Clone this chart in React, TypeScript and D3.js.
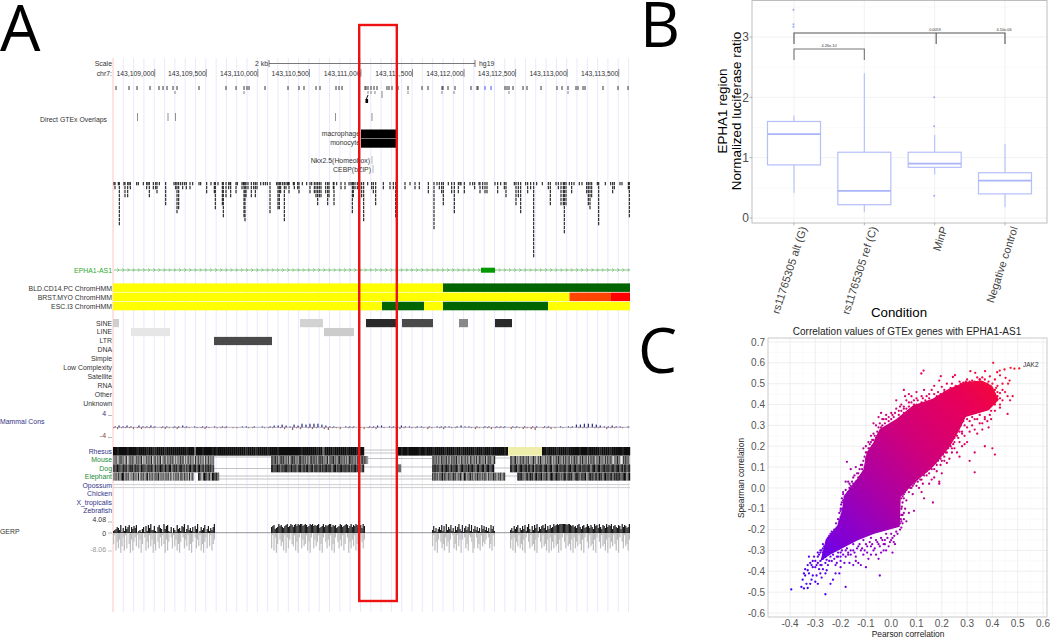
import React from "react";
import * as d3 from "d3";

const FONT = "'Liberation Sans', Arial, sans-serif";

/* ---------- Panel A data ---------- */
const chromStart = 143108600;
const chromEnd = 143113614;
const tickBp = [143109000, 143109500, 143110000, 143110500, 143111000, 143111500, 143112000, 143112500, 143113000, 143113500];
const snpRow1 = [3,16,24,37,46,50,54,60,64,86,113,123,131,134,136,152,175,186,191,203,207,223,226,229,252,253,255,258,261,264,274,276,279,285,295,309,315,329,330,335,342,358,364,365,392,394,396,400,410,414,428,444,449,455,463,465,470,472,490,505,515];
const snpBlue = [372,378];
const snpRow2 = [62,131,255,258,262,269,295,329,341,396,455];
const gtexOverlap = [24.5,55,62.5,222.5,259];
const denseA: [number, number][] = [[1,1],[2,2],[5.3,1],[6.3,11],[11,1],[12,4],[14.7,4],[16,1],[17.3,2],[23.7,1],[25.3,1],[30.3,1],[33.7,2],[35,1],[36.3,4],[40.3,2],[42.7,2],[44,3],[46.3,1],[52.7,6],[61,1],[62.7,2],[64,8],[65.7,7],[67.7,1],[69.7,2],[71.7,1],[73.3,2],[77,2],[79.7,1],[86,1],[87.7,1],[93.7,3],[98,1],[101.3,3],[102.3,7],[105,1],[109.3,6],[110.3,9],[113,4],[115.7,2],[117,1],[117.7,4],[123,3],[124.3,1],[129,2],[130.3,1],[131,9],[132,10],[133,4],[135,2],[138.3,4],[140.7,2],[142.3,4],[144,2],[147.7,1],[150.3,1],[152.3,1],[154.3,1],[157,8],[163.7,1],[165,7],[166.3,7],[167.7,3],[169.7,1],[171.3,10],[173,2],[175.7,1]];
const denseB: [number, number][] = [[174.7,1],[176,3],[180.3,1],[181.3,2],[184.7,2],[186,3],[189.3,1],[193.7,1],[197,3],[198.7,1],[201.3,3],[203,4],[204.7,6],[206.3,4],[208,4],[212.7,3],[214.7,6],[216,4],[220.3,2],[221,6],[223.7,1],[228,2],[232,2],[236,1],[238,1],[239.3,8],[240.3,4],[242,2],[244.3,2],[246.7,2],[248.7,4],[250.7,10],[254.7,1],[258.7,2],[260.3,3],[262.7,6],[270.3,2],[277,2],[280.3,2],[282.7,9],[292,2],[297,1],[302,2],[306.3,2],[315.3,3],[321,12],[324,1],[326.3,2],[328.7,3],[330.3,6],[335.3,1],[338.7,3],[341.3,8],[345.3,3],[348,1]];
const denseC: [number, number][] = [[347,1],[351.3,3],[357,1],[359.7,1],[361.7,2],[366,1],[367,3],[369.7,2],[372,3],[374,3],[382,1],[384.7,3],[387.7,1],[391.3,2],[393,4],[401.3,1],[403,6],[405.3,4],[407.7,8],[412.7,1],[414.7,3],[417.7,2],[420.7,19],[423.7,1],[429.3,1],[435.3,2],[437.3,6],[443,1],[445.3,2],[448,6],[450.3,6],[451.3,13],[453,6],[456.3,1],[458.7,3],[461,1],[466.3,1],[469,1],[473.7,3],[475.3,6],[477,7],[478.7,4],[484.3,1],[485.7,11],[492.3,1],[497.7,1],[499.7,3],[501.3,2],[507,1],[509,1],[515.3,2],[516.3,9]];
const chromRows = ["BLD.CD14.PC ChromHMM", "BRST.MYO ChromHMM", "ESC.I3 ChromHMM"];
const chromSegs: [number, number, number, string][] = [
  [0,330,0,"#ffff00"],[330,517,0,"#006400"],
  [0,456.5,1,"#ffff00"],[456.5,498,1,"#ff4500"],[498,517,1,"#ff0000"],
  [0,269,2,"#ffff00"],[269,311,2,"#006400"],[311,330,2,"#ffff00"],[330,435,2,"#006400"],[435,517,2,"#ffff00"],
];
const rmskNames = ["SINE","LINE","LTR","DNA","Simple","Low Complexity","Satellite","RNA","Other","Unknown"];
const rmskSegs: [number, number, number, string][] = [
  [0,6,0,"#cfcfcf"],[187,210,0,"#d2d2d2"],[253,284,0,"#2a2a2a"],[289,320,0,"#4a4a4a"],[346,355,0,"#888888"],[382,399,0,"#2a2a2a"],
  [18,57,1,"#e6e6e6"],[211,241,1,"#cccccc"],[101,159,2,"#4a4a4a"],
];
const speciesNames = ["Rhesus","Mouse","Dog","Elephant","Opossum","Chicken","X_tropicalis","Zebrafish"];
const speciesColors = ["#333388","#228833","#228833","#228833","#333388","#333388","#333388","#333388"];
const rhesusCells: [number, number, string][] = [
  [0,251,"0010000100001000010011000010000000000100040001000010100000000000000100001000001000010000000000010000000100400001000000100001000"],
  [284,395,"00100100000100100010000010000100100000010001000100000010"],
  [429,517,"0010000100001000001000100000100001000001000"],
];
const mouseCells: [number, number, string][] = [
  [0,101,"54376235471862534735261847352618437261853472635184736251847263548172635481726354"],
  [158,255,"32415263241536273142536214253617324153621425361732415263142536271342536217324156"],
  [319,382,"42536172435261734251637245361824536172453617243561"],
  [397,517,"3254163725416352746153826154736251473625143726154372615347261543726153472615437261534782615399251437"],
];
const dogCells: [number, number, string][] = [
  [0,101,"21302143021530214032150213420312504130214032105213042103250410321041032150213042"],
  [158,251,"10213021403210214032105210320410321052103214021032105210402103210321402103210521"],
  [284,288,"4"],
  [319,381,"21032142031021403210253103214021032410321042103210"],
  [397,517,"1032104210321041032051032104210321053210410321042103210321042103210521032104210321042103210320410321"],
];
const elephantCells: [number, number, string][] = [
  [0,81,"54362540162537462537182536407253642516354625371846253714625371826"],
  [85,106,"147025160314"],
  [319,392,"241536240513624351426351470263415263514263514725361427351642"],
  [404,517,"302143521403152041305241352014302153401520314521035213064213052140315203142051302143201530"],
];
const speciesGaps: [number, number, number][] = [
  [251,284,450],[251,284,453],[101,158,457],[255,319,458.5],[382,397,458],[101,158,468.5],[251,284,467],[288,319,467],[381,397,468],
  [106,319,476],[106,319,479],[392,404,476],
];
const opossumLines = [484.6,487.6];
const mammalUp = "1212102112101101121010110101100011010101"+"2232132434443"+"21100111000112201122110110101111012110"+"1011011101101011011001011"+"3344432"+"1121101";
const mammalDown = "1211121211101211201101121011101100110011"+"1012031201210"+"2311201101211201011210110121012011000"+"1211121110211212301121010"+"1011101"+"1021101";
const gerpSegs: [number, number, string, string][] = [
  [0,102,"2346538152746816475802314617285933721685419478216053184527691483526174902635814725369","5184739628170593842617395028471639580472615938402716385940273618594027361859427061853"],
  [158,252,"678456978657896798689798997898679897878956796878996878567986789857968798678597","718295036481927305618492073651849207364185920473618592047361850294736185920473"],
  [319,382,"3725146382719364825173694281573692814736251847362518472","61849304758264930175816393027581249702758164530275816"],
  [397,517,"3527468153748269417385926478593748569789899999989987867589647856975864978596487596879478658749687569","7382946175839204716583920471658392847165938204716583927461583920471658392047165839274615839204716583"],
];

/* ---------- Panel B data ---------- */
const conditions = ["rs11765305 alt (G)","rs11765305 ref (C)","MinP","Negative control"];
const whiskerLow = [0.42,0.10,0.72,0.18];
const boxQ1 = [0.88,0.22,0.84,0.40];
const boxMedian = [1.39,0.45,0.90,0.62];
const boxQ3 = [1.60,1.09,1.09,0.75];
const whiskerHigh = [1.70,2.40,1.38,1.23];
const boxOutliers = [[3.45,3.21,3.17],[],[2.0,1.52,0.37],[]];
const boxTicks = [0,1,2,3];
const pLabels = ["4.26e-10","0.0059","4.10e-06"];

/* ---------- Panel C data ---------- */
const xTicks = [-0.4,-0.3,-0.2,-0.1,0,0.1,0.2,0.3,0.4,0.5,0.6];
const yTicks = [-0.6,-0.5,-0.4,-0.3,-0.2,-0.1,0,0.1,0.2,0.3,0.4,0.5,0.6,0.7];
const cloudOutline: [number, number][] = [[-0.256,-0.248],[-0.211,-0.184],[-0.191,-0.104],[-0.185,-0.04],[-0.133,0.04],[-0.107,0.088],[-0.094,0.168],[-0.068,0.216],[-0.043,0.28],[0.022,0.328],[0.087,0.392],[0.164,0.424],[0.229,0.472],[0.293,0.504],[0.358,0.512],[0.397,0.488],[0.422,0.424],[0.384,0.376],[0.293,0.344],[0.267,0.28],[0.229,0.2],[0.164,0.104],[0.087,0.024],[0.035,-0.04],[0.031,-0.184],[-0.017,-0.2],[-0.068,-0.216],[-0.133,-0.248],[-0.185,-0.28],[-0.236,-0.312],[-0.275,-0.344]];
const outliers: [number, number][] = [
[.403,.60],[.506,.573],[.487,.572],[.472,.576],[.448,.568],[.429,.563],[.419,.555],[.371,.56],[.332,.552],[.313,.56],[.128,.563],[.119,.549],[.196,.536],[.252,.541],[.244,.532],[.468,.515],[.452,.528],[.462,.50],[.44,.50],[.43,.54],[.41,.52],[.39,.535],[.36,.53],[.34,.53],[.3,.52],[.27,.51],[.22,.50],[.19,.515],[.17,.49],[.13,.47],[.1,.46],[.05,.47],[.055,.44],[.46,.44],[.48,.44],[.44,.42],[.45,.46],[.43,.455],[.47,.42],
[.42,.49],[.41,.47],[.44,.47],[.385,.51],[.35,.52],[.32,.515],[.285,.505],[.255,.49],[.21,.47],[.185,.46],[.15,.45],[.125,.43],[.09,.42],[.07,.41],[.035,.39],[.2,.485],[.24,.5],[.42,.44],[.43,.40],[.41,.41],[.40,.40],
[.46,.355],[.43,.385],[.41,.37],[.395,.33],[.385,.29],[.4,.19],[.41,.16],[.37,.2],[.34,.26],[.33,.17],[.31,.13],[.33,.075],[.28,.2],[.27,.15],[.25,.22],[.26,.17],[.24,.19],[.3,.22],[.29,.25],[.35,.31],[.32,.3],[.36,.28],[.38,.32],[.23,.14],[.2,.07],[.195,.11],[.22,.12],[.19,.03],[.19,.02],[.17,.05],[.16,.04],[.13,-.05],[.165,-.07],[.12,-.02],[.1,.01],[.085,-.03],[.07,-.02],[.09,-.11],[.06,-.06],[.055,-.1],[.07,-.12],[.045,-.13],[.04,-.16],
[.37,.34],[.34,.33],[.31,.32],[.33,.28],[.3,.29],[.28,.26],[.31,.27],[.26,.25],[.25,.19],[.24,.23],[.27,.22],[.29,.21],[.21,.15],[.22,.17],[.2,.13],[.18,.11],[.18,.08],[.15,.07],[.14,.06],[.12,.04],[.15,.02],[.11,.0],[.09,.02],[.08,0],[.06,-.01],[.05,-.03],[.045,-.07],[.05,-.12],[.04,-.1],[.04,-.19],[.035,-.2],
[.01,-.26],[.015,-.27],[-.01,-.28],[.005,-.31],[-.025,-.25],[-.045,-.42],[-.05,-.27],[-.03,-.3],[-.07,-.3],[-.05,-.34],[-.09,-.34],[-.1,-.38],[-.12,-.37],[-.13,-.36],[-.15,-.37],[-.18,-.475],[-.185,-.36],[-.17,-.32],[-.2,-.35],[-.22,-.37],[-.24,-.46],[-.23,-.44],[-.26,-.51],[-.29,-.46],[-.3,-.45],[-.33,-.48],[-.345,-.482],[-.355,-.475],[-.395,-.487],[-.35,-.44],[-.34,-.42],[-.335,-.46],[-.31,-.42],[-.3,-.38],[-.28,-.41],[-.27,-.39],[-.26,-.36],[-.25,-.37],[-.28,-.35],[-.325,-.33],[-.31,-.35],[-.29,-.31],[-.27,-.31],[-.265,-.28],[-.25,-.27],[-.31,-.38],[-.33,-.395],
[.0,-.22],[-.02,-.22],[-.04,-.24],[-.06,-.25],[-.08,-.24],[-.1,-.27],[-.11,-.25],[-.13,-.28],[-.15,-.27],[-.16,-.3],[-.18,-.3],[-.2,-.31],[-.21,-.33],[-.24,-.33],[-.23,-.3],[-.26,-.33],[-.28,-.37],[-.03,-.27],[-.08,-.28],[-.12,-.3],[-.14,-.33],[.02,-.21],[.0,-.25],[-.28,-.3],[-.27,-.27],[-.24,-.25],[-.24,-.22],[-.22,-.2],[-.21,-.21],[-.2,-.14],[-.2,-.1],[-.195,-.07],[-.19,-.02],
[-.17,.03],[-.18,.03],[-.175,.125],[-.16,.09],[-.14,.1],[-.12,.11],[-.11,.13],[-.11,.19],[-.09,.22],[-.095,.17],[-.07,.26],[-.08,.25],[-.06,.3],[-.07,.31],[-.05,.34],[-.03,.33],[-.04,.36],[-.02,.35],[0,.36],[.02,.38],[.02,.42],[.04,.40],[.05,.39],[.07,.45],[.06,.42],[.08,.44],[.1,.43],
[-.165,.02],[-.15,.05],[-.13,.07],[-.12,.06],[-.115,.09],[-.1,.11],[-.1,.14],[-.085,.19],[-.075,.23],[-.055,.25],[-.05,.29],[-.035,.3],[-.01,.32],[.01,.34],[.03,.35],[.05,.36],[.06,.38],[.1,.4],[.12,.41],[.14,.44],[.18,.44],[.22,.45],[.16,.47],[.25,.47],[.28,.48],
[-.29,-.33],[-.285,-.32],[-.28,-.31],[-.275,-.3],[-.27,-.29],[-.262,-.32],[-.258,-.3],[-.252,-.29],[-.248,-.31],[-.245,-.28],[-.24,-.3],[-.235,-.27],[-.23,-.32],[-.225,-.34],[-.22,-.3],[-.215,-.33],[-.21,-.31],[-.205,-.29],[-.2,-.33],[-.195,-.3],[-.19,-.32],[-.18,-.33],[-.175,-.29],[-.17,-.31],[-.16,-.32],[-.15,-.3],[-.145,-.31],[-.135,-.29],[-.125,-.27],[-.115,-.29],[-.105,-.3],[-.095,-.28],[-.085,-.26],[-.075,-.27],[-.065,-.29],[-.055,-.26],[-.045,-.28],[-.035,-.25],[-.025,-.27],[-.015,-.24],[-.005,-.26],[.005,-.24],[.012,-.23],[.025,-.22],
[-.3,-.35],[-.295,-.37],[-.305,-.33],[-.315,-.37],[-.32,-.36],[-.33,-.37],[-.34,-.39],[-.345,-.41],[-.325,-.41],[-.315,-.44],[-.32,-.46],[-.295,-.42],[-.285,-.39],[-.275,-.37],[-.29,-.36],[-.27,-.34],[-.255,-.345],[-.245,-.35],[-.235,-.35],[-.255,-.395],[-.26,-.41],[-.275,-.43],[-.215,-.36],[-.2,-.38],[-.205,-.41],[-.22,-.41],[-.165,-.36],[-.14,-.35],[-.11,-.32],[-.095,-.31],[-.08,-.32],[-.06,-.32],[-.04,-.31],[-.02,-.3],
[-.25,-.24],[-.245,-.23],[-.235,-.21],[-.23,-.23],[-.225,-.2],[-.218,-.17],[-.215,-.19],[-.21,-.15],[-.205,-.16],[-.205,-.12],[-.2,-.11],[-.198,-.08],[-.195,-.1],[-.195,-.05],[-.19,-.06],[-.19,-.03],[-.18,-.01],[-.17,-.02],[-.165,.0],[-.16,.01],[-.155,.03],[-.15,.02],[-.145,.06],[-.14,.03],[-.135,.07],[-.13,.05],[-.125,.09],[-.115,.11],[-.11,.07],[-.105,.15],[-.105,.1],[-.1,.17],[-.1,.2],[-.095,.13],[-.09,.19],[-.085,.21],[-.08,.17],[-.08,.22],[-.075,.2],[-.07,.23],[-.065,.25],[-.06,.24],[-.055,.27],[-.05,.26],[-.045,.31],[-.04,.29],[-.035,.33],[-.025,.31],[-.02,.33],[-.01,.34],[0,.33],[.005,.35],[.015,.36],[.03,.37],[.04,.37],[.05,.38],[.07,.39],[.08,.41],[.09,.4],[.105,.42],[.12,.44],[.135,.42],[.15,.43],[.17,.45],[.195,.45],[.21,.46],[.235,.48],[.26,.48],[.275,.5],[.295,.51],[.31,.51],[.33,.51],[.35,.52],[.37,.52],[.38,.5],[.4,.5],[.415,.48],[.42,.46],[.43,.43],
[.41,.4],[.395,.37],[.39,.35],[.37,.33],[.36,.31],[.35,.35],[.33,.33],[.32,.34],[.3,.33],[.285,.32],[.29,.3],[.275,.3],[.28,.27],[.27,.27],[.265,.24],[.255,.26],[.25,.24],[.245,.21],[.24,.17],[.235,.2],[.225,.19],[.215,.17],[.205,.16],[.21,.13],[.195,.14],[.185,.13],[.175,.12],[.17,.09],[.16,.09],[.15,.09],[.14,.08],[.13,.06],[.125,.02],[.115,.04],[.105,.03],[.095,.03],[.085,.01],[.075,.0],[.065,.01],[.055,-.02],[.05,-.05],[.045,-.04],[.04,-.05],[.042,-.09],[.04,-.13],[.038,-.15],[.035,-.17],[.045,-.17],[.05,-.15],[.06,-.16]
];
const jakLabel = "JAK2";

/* ---------- scales ---------- */
const gx = d3.scaleLinear().domain([chromStart, chromEnd]).range([113, 630]);
const bx = d3.scaleLinear().domain([0, 517]).range([113, 630]);
const gridBp = d3.range(chromStart, chromEnd, 100);

const boxX = d3.scalePoint<string>().domain(conditions).range([794, 1005]);
const boxY = d3.scaleLinear().domain([0, 3]).range([218, 37]);
const boxMinor = [0.5,1.5,2.5,3.5];

const sx = d3.scaleLinear().domain([-0.4, 0.6]).range([790, 1043]);
const sy = d3.scaleLinear().domain([-0.6, 0.7]).range([613, 342]);
const colorStops = ["#2a00ff","#7a00dd","#a800a8","#d0007a","#e80058","#ff1020"];
const colorT = d3.scaleLinear<string>().domain([0,.2,.4,.6,.8,1]).range(colorStops).interpolate(d3.interpolateRgb);
const gx1 = sx(-0.4), gy1 = sy(-0.5), gx2 = sx(0.5), gy2 = sy(0.6);
const colorAt = (p: number, s: number) => {
  const dx = gx2 - gx1, dy = gy2 - gy1;
  const t = ((sx(p) - gx1) * dx + (sy(s) - gy1) * dy) / (dx * dx + dy * dy);
  return colorT(Math.max(0, Math.min(1, t)));
};
const cloudLine = d3.line<[number, number]>().x(d => sx(d[0])).y(d => sy(d[1])).curve(d3.curveLinearClosed);

const Lbl = (p: any) => <text fontFamily={FONT} fontSize={6.9} fill="#333" {...p} />;

function BarCells({ cells, y, h }: { cells: [number, number, string][]; y: number; h: number }) {
  return <g>{cells.map(([a, b, s], i) => {
    const w = (bx(b) - bx(a)) / s.length;
    return <g key={i}>{s.split("").map((c, j) => {
      const g = 14 + +c * 24;
      return <rect key={j} x={bx(a) + j * w} y={y} width={w + 0.2} height={h} fill={`rgb(${g},${g},${g})`} />;
    })}</g>;
  })}</g>;
}

function DenseCols({ cols }: { cols: [number, number][] }) {
  return <g>{cols.map(([b, d], i) => (
    <line key={i} x1={bx(b)} x2={bx(b)} y1={182} y2={182 + d * 4} stroke="#111" strokeWidth={1.05}
      strokeDasharray="3.2 0.8" />
  ))}</g>;
}

export default function App() {
  const bw = 53;
  const mStep = 517 / mammalUp.length;
  return (
    <svg width={1050} height={637} style={{ position: "absolute", left: 0, top: 0, background: "#fff" }} fontFamily={FONT}>
      <defs>
        <linearGradient id="cloud" gradientUnits="userSpaceOnUse" x1={gx1} y1={gy1} x2={gx2} y2={gy2}>
          {colorStops.map((c, i) => <stop key={i} offset={i / 5} stopColor={c} />)}
        </linearGradient>
      </defs>

      {/* Big panel letters */}
      <text x={0} y={51} fontFamily="'Open Sans'" fontSize={64} fill="#000">A</text>
      <text x={640} y={47} fontFamily="'Open Sans'" fontSize={62} fill="#000">B</text>
      <text x={638} y={373} fontFamily="'Open Sans'" fontSize={62} fill="#000">C</text>

      {/* Panel A: grid */}
      {gridBp.filter(b => b > chromStart).map(b => (
        <line key={b} x1={gx(b)} x2={gx(b)} y1={58} y2={612} stroke="#e9e9fd" strokeWidth={1} />
      ))}
      <line x1={113} x2={113} y1={58} y2={612} stroke="#ffc4c4" strokeWidth={1} />

      {/* Scale and position row */}
      <Lbl x={112} y={66} textAnchor="end">Scale</Lbl>
      <Lbl x={268} y={66} textAnchor="end">2 kb</Lbl>
      <line x1={269} x2={475} y1={63.5} y2={63.5} stroke="#555" strokeWidth={0.8} />
      <line x1={269} x2={269} y1={60} y2={67} stroke="#555" strokeWidth={0.8} />
      <line x1={475} x2={475} y1={60} y2={67} stroke="#555" strokeWidth={0.8} />
      <Lbl x={479} y={65.5}>hg19</Lbl>
      <Lbl x={112} y={76} textAnchor="end">chr7:</Lbl>
      {tickBp.map(b => (
        <g key={b}>
          <text x={gx(b)} y={76} textAnchor="end" fontSize={6.8} fill="#333">{d3.format(",")(b)}</text>
          <line x1={gx(b)+0.5} x2={gx(b)+0.5} y1={69} y2={77} stroke="#444" strokeWidth={0.6} />
        </g>
      ))}

      {/* SNP ticks */}
      {snpRow1.map((b, i) => <line key={i} x1={bx(b)} x2={bx(b)} y1={86} y2={90} stroke="#222" strokeWidth={0.9} />)}
      {snpBlue.map((b, i) => <line key={i} x1={bx(b)} x2={bx(b)} y1={86} y2={90} stroke="#4455ee" strokeWidth={1} />)}
      {snpRow2.map((b, i) => <line key={i} x1={bx(b)} x2={bx(b)} y1={91} y2={b === 269 ? 98 : 94} stroke="#555" strokeWidth={0.7} />)}
      <line x1={bx(255)} x2={bx(253)} y1={95} y2={100} stroke="#111" strokeWidth={1} />
      <rect x={bx(252.5)} y={99} width={2.6} height={4} fill="#000" />

      {/* GTEx overlaps */}
      <Lbl x={107} y={121.5} textAnchor="end">Direct GTEx Overlaps</Lbl>
      {gtexOverlap.map((b, i) => <line key={i} x1={bx(b)} x2={bx(b)} y1={113} y2={121} stroke="#777" strokeWidth={0.8} />)}
      <Lbl x={360} y={136} textAnchor="end">macrophage</Lbl>
      <Lbl x={360} y={145} textAnchor="end">monocyte</Lbl>
      <rect x={bx(248)} y={129.5} width={bx(285) - bx(248)} height={8.9} fill="#000" />
      <rect x={bx(248)} y={138.8} width={bx(285) - bx(248)} height={8.9} fill="#000" />
      <Lbl x={370} y={162.5} textAnchor="end">Nkx2.5(Homeobox)</Lbl>
      <Lbl x={371} y={171.5} textAnchor="end">CEBP(bZIP)</Lbl>
      <line x1={372} x2={372} y1={156} y2={164} stroke="#888" strokeWidth={0.6} />
      <line x1={373} x2={373} y1={165} y2={173} stroke="#888" strokeWidth={0.6} />

      {/* Dense peak track */}
      <DenseCols cols={denseA} />
      <DenseCols cols={denseB} />
      <DenseCols cols={denseC} />

      {/* Gene */}
      <text x={112} y={273} textAnchor="end" fontSize={6.9} fill="#2faa2f">EPHA1-AS1</text>
      <line x1={114} x2={630} y1={270} y2={270} stroke="#66b566" strokeWidth={0.8} />
      {gridBp.flatMap(b => [b, b + 50]).filter(b => gx(b) > 115 && gx(b) < 629).map(b => (
        <path key={b} d={`M${gx(b) - 1},${268.3}L${gx(b) + 0.8},270L${gx(b) - 1},${271.7}`} fill="none" stroke="#66b566" strokeWidth={0.7} />
      ))}
      <rect x={bx(368)} y={267.7} width={bx(382) - bx(368)} height={5} fill="#009900" />

      {/* ChromHMM */}
      {chromRows.map((n, i) => <Lbl key={n} x={112} y={290.5 + i * 9.2} textAnchor="end">{n}</Lbl>)}
      {chromSegs.map(([a, b, r, c], i) => (
        <rect key={i} x={bx(a)} y={283.4 + r * 9.2} width={bx(b) - bx(a)} height={8.5} fill={c} />
      ))}

      {/* RepeatMasker */}
      {rmskNames.map((n, i) => <Lbl key={n} x={112} y={325.5 + i * 8.95} textAnchor="end">{n}</Lbl>)}
      {rmskSegs.map(([a, b, r, c], i) => (
        <rect key={i} x={bx(a)} y={319 + r * 8.95} width={bx(b) - bx(a)} height={8.2} fill={c} />
      ))}

      {/* Mammal Cons */}
      <text x={0} y={423.5} fontSize={6.9} fill="#333388">Mammal Cons</text>
      <text x={106} y={415.5} textAnchor="end" fontSize={6.9} fill="#333388">4</text>
      <line x1={108} x2={112} y1={415.5} y2={415.5} stroke="#888" strokeWidth={0.6} />
      <text x={106} y={437.5} textAnchor="end" fontSize={6.9} fill="#884433">-4</text>
      <line x1={108} x2={112} y1={437.5} y2={437.5} stroke="#888" strokeWidth={0.6} />
      <line x1={114} x2={630} y1={427.3} y2={427.3} stroke="#6a6a8a" strokeWidth={0.5} />
      {mammalDown.split("").map((c, i) => (
        <rect key={i} x={bx(i * mStep)} y={427.3} width={1.2} height={+c * 0.9} fill="#a05a48" />
      ))}
      {mammalUp.split("").map((c, i) => (
        <rect key={i} x={bx(i * mStep + 1.5)} y={427.3 - +c * 0.9} width={1.2} height={+c * 0.9} fill="#2a2a80" />
      ))}

      {/* Multiz species */}
      {speciesNames.map((n, i) => (
        <text key={n} x={112} y={454 + i * 8.45} textAnchor="end" fontSize={6.9} fill={speciesColors[i]}>{n}</text>
      ))}
      {speciesGaps.map(([a, b, y], i) => <line key={i} x1={bx(a)} x2={bx(b)} y1={y} y2={y} stroke="#bbbbbb" strokeWidth={0.9} />)}
      {opossumLines.map((y, i) => <line key={i} x1={113} x2={630} y1={y} y2={y} stroke="#c8c8c8" strokeWidth={0.9} />)}
      <BarCells cells={rhesusCells} y={447} h={8.6} />
      <rect x={bx(395)} y={447} width={bx(429) - bx(395)} height={8.6} fill="#eeeeaa" />
      <BarCells cells={mouseCells} y={456} h={8} />
      <BarCells cells={dogCells} y={464.3} h={8} />
      <BarCells cells={elephantCells} y={472.6} h={8} />

      {/* GERP */}
      <text x={0} y={533.5} fontSize={6.9} fill="#333">GERP</text>
      <Lbl x={106} y={522} textAnchor="end">4.08</Lbl>
      <line x1={108} x2={112} y1={522} y2={522} stroke="#888" strokeWidth={0.6} />
      <Lbl x={106} y={536} textAnchor="end">0</Lbl>
      <line x1={108} x2={112} y1={533} y2={533} stroke="#888" strokeWidth={0.6} />
      <text x={106} y={551.5} textAnchor="end" fontSize={6.9} fill="#999">-8.06</text>
      <line x1={108} x2={112} y1={551} y2={551} stroke="#aaa" strokeWidth={0.6} />
      <line x1={114} x2={630} y1={532.7} y2={532.7} stroke="#666" strokeWidth={0.7} />
      {gerpSegs.map(([a, b, up, down], i) => {
        const w = (bx(b) - bx(a)) / up.length;
        const w2 = (bx(b) - bx(a)) / down.length;
        return (
          <g key={i}>
            {down.split("").map((c, j) => (
              <rect key={j} x={bx(a) + j * w2} y={533} width={w2} height={+c * 2.2} fill="#bdbdbd" />
            ))}
            {up.split("").map((c, j) => (
              <rect key={j} x={bx(a) + j * w} y={533 - +c} width={w} height={+c} fill="#1a1a1a" />
            ))}
          </g>
        );
      })}

      {/* Red highlight */}
      <rect x={359.2} y={25} width={37.6} height={576} fill="none" stroke="#ee1111" strokeWidth={2.4} />

      {/* Panel B */}
      <rect x={752} y={0.5} width={295} height={222.5} fill="#fff" />
      {boxTicks.map(t => <line key={t} x1={752} x2={1047} y1={boxY(t)} y2={boxY(t)} stroke="#eeeeee" strokeWidth={0.8} />)}
      {boxMinor.map(t => <line key={t} x1={752} x2={1047} y1={boxY(t)} y2={boxY(t)} stroke="#f6f6f6" strokeWidth={0.6} />)}
      {conditions.map(c => <line key={c} x1={boxX(c)} x2={boxX(c)} y1={0} y2={223} stroke="#eeeeee" strokeWidth={0.8} />)}
      {conditions.map((c, i) => {
        const x = boxX(c)!;
        return (
          <g key={c} stroke="#b5bffa" fill="none">
            <line x1={x} x2={x} y1={boxY(boxQ3[i])} y2={boxY(whiskerHigh[i])} strokeWidth={1.1} />
            <line x1={x} x2={x} y1={boxY(boxQ1[i])} y2={boxY(whiskerLow[i])} strokeWidth={1.1} />
            <rect x={x - bw / 2} y={boxY(boxQ3[i])} width={bw} height={boxY(boxQ1[i]) - boxY(boxQ3[i])} strokeWidth={1.2} fill="#fff" />
            <line x1={x - bw / 2} x2={x + bw / 2} y1={boxY(boxMedian[i])} y2={boxY(boxMedian[i])} strokeWidth={1.8} stroke="#a9b4fa" />
            {boxOutliers[i].map((o, j) => <circle key={j} cx={x - 0.5} cy={boxY(o)} r={1} fill="#9aa8ff" stroke="none" />)}
          </g>
        );
      })}
      {/* brackets */}
      <path d={`M${boxX(conditions[0])},44V33H${boxX(conditions[3])}V44`} fill="none" stroke="#555" strokeWidth={1.1} />
      <path d={`M${boxX(conditions[2])! + 1.5},33V44`} fill="none" stroke="#555" strokeWidth={1.1} />
      <path d={`M${boxX(conditions[0])},60V49H${boxX(conditions[1])}V60`} fill="none" stroke="#777" strokeWidth={1.1} />
      <text x={829} y={46.8} textAnchor="middle" fontSize={3.8} fill="#333">{pLabels[0]}</text>
      <text x={935} y={30.6} textAnchor="middle" fontSize={3.8} fill="#333">{pLabels[1]}</text>
      <text x={1004} y={30.6} textAnchor="middle" fontSize={3.8} fill="#333">{pLabels[2]}</text>
      <rect x={752} y={0.5} width={295} height={222.5} fill="none" stroke="#bdbdbd" strokeWidth={1} />
      {boxTicks.map(t => (
        <g key={t}>
          <line x1={749.5} x2={752} y1={boxY(t)} y2={boxY(t)} stroke="#888" strokeWidth={0.6} />
          <text x={749} y={boxY(t) + 4.2} textAnchor="end" fontSize={12} fill="#4d4d4d">{t}</text>
        </g>
      ))}
      {conditions.map(c => (
        <g key={c}>
          <line x1={boxX(c)} x2={boxX(c)} y1={223} y2={225.5} stroke="#888" strokeWidth={0.6} />
          <text transform={`translate(${boxX(c)! + 13},228) rotate(-72)`} textAnchor="end" fontSize={11} fill="#444">{c}</text>
        </g>
      ))}
      <text transform="translate(727,111) rotate(-90)" textAnchor="middle" fontSize={13.4} fill="#000">EPHA1 region</text>
      <text transform="translate(740.5,111) rotate(-90)" textAnchor="middle" fontSize={13.4} fill="#000">Normalized luciferase ratio</text>
      <text x={899} y={317} textAnchor="middle" fontSize={13.3} fill="#000">Condition</text>

      {/* Panel C */}
      <text x={907} y={334.5} textAnchor="middle" fontSize={10} fill="#222">Correlation values of GTEx genes with EPHA1-AS1</text>
      {d3.range(-0.55, 0.66, 0.1).map(t => <line key={t} x1={768} x2={1047} y1={sy(t)} y2={sy(t)} stroke="#f6f6f6" strokeWidth={0.6} />)}
      {d3.range(-0.45, 0.6, 0.1).map(t => <line key={t} x1={sx(t)} x2={sx(t)} y1={338} y2={617} stroke="#f6f6f6" strokeWidth={0.6} />)}
      {yTicks.map(t => <line key={t} x1={768} x2={1047} y1={sy(t)} y2={sy(t)} stroke="#ebebeb" strokeWidth={0.8} />)}
      {xTicks.map(t => <line key={t} x1={sx(t)} x2={sx(t)} y1={338} y2={617} stroke="#ebebeb" strokeWidth={0.8} />)}
      <path d={cloudLine(cloudOutline) || ""} fill="url(#cloud)" stroke="url(#cloud)" strokeWidth={1.5} />
      {outliers.map(([p, s], i) => <circle key={i} cx={sx(p)} cy={sy(s)} r={1.15} fill={colorAt(p, s)} />)}
      <text x={1023} y={367} fontSize={6.5} fill="#333">{jakLabel}</text>
      <rect x={768} y={338} width={279} height={279} fill="none" stroke="#c4c4c4" strokeWidth={0.9} />
      {yTicks.map(t => (
        <text key={t} x={765} y={sy(t) + 3.6} textAnchor="end" fontSize={10} fill="#555">{t.toFixed(1)}</text>
      ))}
      {xTicks.map(t => (
        <text key={t} x={sx(t)} y={627.3} textAnchor="middle" fontSize={10} fill="#555">{t.toFixed(1)}</text>
      ))}
      <text x={908} y={636.5} textAnchor="middle" fontSize={8.4} fill="#222">Pearson correlation</text>
      <text transform="translate(744,478) rotate(-90)" textAnchor="middle" fontSize={8.4} fill="#222">Spearman correlation</text>
    </svg>
  );
}
